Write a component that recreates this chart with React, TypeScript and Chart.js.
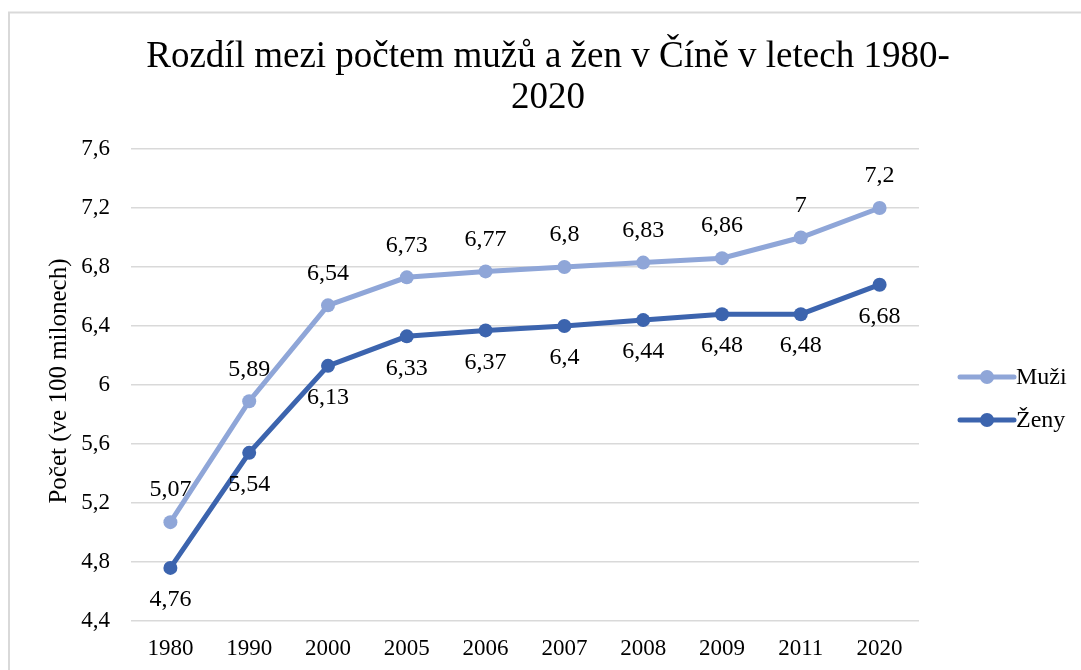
import React, { useEffect, useRef } from "react";
import { Chart, registerables } from "chart.js";

Chart.register(...registerables);

const categories = ["1980", "1990", "2000", "2005", "2006", "2007", "2008", "2009", "2011", "2020"];
const muzi = [5.07, 5.89, 6.54, 6.73, 6.77, 6.8, 6.83, 6.86, 7, 7.2];
const zeny = [4.76, 5.54, 6.13, 6.33, 6.37, 6.4, 6.44, 6.48, 6.48, 6.68];
const seriesNames = ["Muži", "Ženy"];
const titleLines = ["Rozdíl mezi počtem mužů a žen v Číně v letech 1980-", "2020"];
const yAxisTitle = "Počet (ve 100 milonech)";
const yMin = 4.4;
const yMax = 7.6;
const yStep = 0.4;

const COLOR_MUZI = "#8FA6D8";
const COLOR_ZENY = "#3C64AE";
const FONT = "'Liberation Serif', 'Times New Roman', serif";

const fmt = (v: number) => String(Math.round(v * 100) / 100).replace(".", ",");

const decorPlugin = {
  id: "decor",
  beforeDraw(chart: any) {
    const ctx = chart.ctx;
    ctx.save();
    ctx.strokeStyle = "#d9d9d9";
    ctx.lineWidth = 2;
    ctx.strokeRect(9, 12.5, 1200, 800);
    ctx.restore();
  },
  afterDraw(chart: any) {
    const ctx = chart.ctx;
    ctx.save();
    // title
    ctx.fillStyle = "#000";
    ctx.font = `37px ${FONT}`;
    ctx.textAlign = "center";
    ctx.textBaseline = "middle";
    titleLines.forEach((t, i) => ctx.fillText(t, 548, 57 + i * 41));

    // y-axis title
    ctx.save();
    ctx.translate(59, 381);
    ctx.rotate(-Math.PI / 2);
    ctx.font = `25px ${FONT}`;
    ctx.fillText(yAxisTitle, 0, 0);
    ctx.restore();

    // data labels
    ctx.font = `24px ${FONT}`;
    chart.data.datasets.forEach((ds: any, di: number) => {
      const meta = chart.getDatasetMeta(di);
      meta.data.forEach((pt: any, i: number) => {
        const dy = di === 0 ? -32 : 32;
        ctx.fillText(fmt(ds.data[i]), pt.x, pt.y + dy);
      });
    });

    // legend
    const legendY = [377, 420];
    const colors = [COLOR_MUZI, COLOR_ZENY];
    seriesNames.forEach((name, i) => {
      const y = legendY[i];
      ctx.strokeStyle = colors[i];
      ctx.lineWidth = 5;
      ctx.lineCap = "round";
      ctx.beginPath();
      ctx.moveTo(960, y);
      ctx.lineTo(1014, y);
      ctx.stroke();
      ctx.fillStyle = colors[i];
      ctx.beginPath();
      ctx.arc(987, y, 7, 0, Math.PI * 2);
      ctx.fill();
      ctx.fillStyle = "#000";
      ctx.textAlign = "left";
      ctx.font = `24px ${FONT}`;
      ctx.fillText(name, 1016, y + 1);
    });
    ctx.restore();
  },
};

export default function App() {
  const ref = useRef<HTMLCanvasElement | null>(null);
  useEffect(() => {
    if (!ref.current) return;
    const chart = new Chart(ref.current, {
      type: "line",
      data: {
        labels: categories,
        datasets: [
          {
            label: seriesNames[0],
            data: muzi,
            borderColor: COLOR_MUZI,
            backgroundColor: COLOR_MUZI,
            borderWidth: 5,
            pointRadius: 7,
            pointHoverRadius: 7,
            pointBorderWidth: 0,
            tension: 0,
          },
          {
            label: seriesNames[1],
            data: zeny,
            borderColor: COLOR_ZENY,
            backgroundColor: COLOR_ZENY,
            borderWidth: 5,
            pointRadius: 7,
            pointHoverRadius: 7,
            pointBorderWidth: 0,
            tension: 0,
          },
        ],
      },
      options: {
        animation: false,
        responsive: false,
        devicePixelRatio: 1,
        layout: { padding: { top: 149, right: 162, left: 0, bottom: 0 } },
        plugins: {
          legend: { display: false },
          title: { display: false },
          tooltip: { enabled: false },
        },
        scales: {
          x: {
            offset: true,
            grid: { display: false, drawTicks: false },
            border: { display: false },
            ticks: { color: "#000", font: { family: FONT, size: 23 }, padding: 14 },
            afterFit: (s: any) => {
              s.height = 49;
            },
          },
          y: {
            min: yMin,
            max: yMax,
            grid: { color: "#d9d9d9", lineWidth: 1.5, drawTicks: false },
            border: { display: false },
            ticks: {
              stepSize: yStep,
              color: "#000",
              font: { family: FONT, size: 23 },
              padding: 21,
              callback: (v: any) => fmt(Number(v)),
            },
            afterFit: (s: any) => {
              s.width = 131;
            },
          },
        },
      },
      plugins: [decorPlugin],
    });
    return () => chart.destroy();
  }, []);
  return (
    <div style={{ position: "fixed", left: 0, top: 0, width: 1081, height: 670, background: "#fff" }}>
      <canvas ref={ref} width={1081} height={670} style={{ width: 1081, height: 670 }} />
    </div>
  );
}
